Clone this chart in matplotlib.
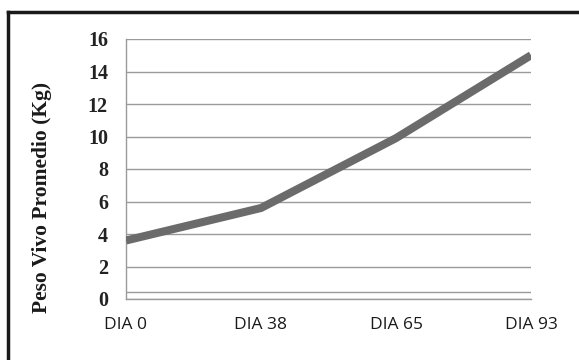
import matplotlib
matplotlib.use("Agg")
import matplotlib.pyplot as plt
from matplotlib.lines import Line2D

# Average live weight per sampling day
dias = ["DIA 0", "DIA 38", "DIA 65", "DIA 93"]
peso = [3.6, 5.6, 9.9, 15.0]
yticks = [0, 2, 4, 6, 8, 10, 12, 14, 16]

fig = plt.figure(figsize=(5.79, 3.6), dpi=100)
ax = fig.add_axes([126 / 579, 1 - 299 / 360, 405 / 579, 260 / 360])

x = list(range(len(dias)))
ax.plot(x, peso, color="#6b6b6b", lw=5.8, solid_capstyle="butt", zorder=3)

ax.set_xlim(0, len(dias) - 1)
ax.set_ylim(0, 16)
ax.set_yticks(yticks)
ax.set_yticklabels([str(t) for t in yticks], fontfamily="Liberation Serif",
                   fontweight="bold", fontsize=14.5, color="#222222")
ax.set_xticks(x)
ax.set_xticklabels(dias, fontfamily="Open Sans", fontsize=12.5, color="#1a1a1a")
ax.tick_params(length=0)
ax.tick_params(axis="x", pad=13)
ax.tick_params(axis="y", pad=13)

ax.grid(axis="y", color="#9a9a9a", lw=1)
ax.axhline(0.45, color="#9a9a9a", lw=1)
for s in ["top", "right"]:
    ax.spines[s].set_visible(False)
for s in ["left", "bottom"]:
    ax.spines[s].set_color("#9a9a9a")
    ax.spines[s].set_linewidth(1)

ax.set_ylabel("Peso Vivo Promedio (Kg)", fontfamily="Liberation Serif",
              fontweight="bold", fontsize=15.5, color="#1a1a1a")
ax.yaxis.set_label_coords(-0.183, 0.39)

# outer chart frame: only its left and top edges are inside the image
fx, fy = 8 / 579, 1 - 12 / 360
fig.add_artist(Line2D([fx, fx], [0, fy], transform=fig.transFigure,
                      color="#1a1a1a", lw=2.5, solid_capstyle="projecting"))
fig.add_artist(Line2D([fx, 1], [fy, fy], transform=fig.transFigure,
                      color="#1a1a1a", lw=2.5, solid_capstyle="projecting"))

fig.savefig("out.png", dpi=100)
